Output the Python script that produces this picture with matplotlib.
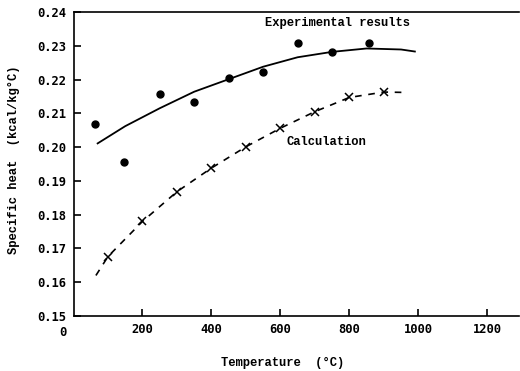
import matplotlib
matplotlib.use("Agg")
import matplotlib.pyplot as plt

# Experimental data points
exp_x = [62, 147, 250, 350, 451, 551, 652, 751, 858]
exp_y = [0.2067, 0.1957, 0.2156, 0.2133, 0.2204, 0.2223, 0.2307, 0.2282, 0.2308]

# Smoothed experimental curve
fit_x = [70, 150, 250, 350, 450, 550, 650, 750, 850, 950, 990]
fit_y = [0.2011, 0.2062, 0.2115, 0.2164, 0.2201, 0.2238, 0.2266, 0.2282, 0.2292, 0.2289, 0.2283]

# Calculation points
calc_x = [100, 200, 300, 400, 500, 600, 700, 800, 900]
calc_y = [0.1676, 0.1780, 0.1868, 0.1938, 0.2001, 0.2056, 0.2105, 0.2147, 0.2163]

# Calculation dashed curve
calc_line_x = [65, 100, 200, 300, 400, 500, 600, 700, 800, 900, 955]
calc_line_y = [0.1620, 0.1676, 0.1780, 0.1868, 0.1938, 0.2001, 0.2056, 0.2105, 0.2147, 0.2163, 0.2162]

x_ticks = [200, 400, 600, 800, 1000, 1200]
y_ticks = [0.15, 0.16, 0.17, 0.18, 0.19, 0.20, 0.21, 0.22, 0.23, 0.24]

mono = "Liberation Mono"
num = "DejaVu Sans Mono"
fs = 8.7

fig = plt.figure(figsize=(5.2, 3.71), dpi=100)
ax = fig.add_axes([73.5/520, 55/371, (519-73.5)/520, (316-12)/371])

ax.plot(fit_x, fit_y, color="black", lw=1.3)
ax.plot(exp_x, exp_y, "o", color="black", ms=5)
ax.plot(calc_line_x, calc_line_y, color="black", lw=1.2, ls=(0, (4, 4)))
ax.plot(calc_x, calc_y, "x", color="black", ms=6, mew=1.1)

ax.set_xlim(0, 1292)
ax.set_ylim(0.15, 0.24)
ax.set_xticks(x_ticks)
ax.set_yticks(y_ticks)
ax.set_xticklabels([str(t) for t in x_ticks], fontfamily=num, fontweight="bold", fontsize=fs)
ax.set_yticklabels(["%.2f" % t for t in y_ticks], fontfamily=num, fontweight="bold", fontsize=fs)
ax.tick_params(direction="in", length=5, width=1.2, pad=5)
for s in ax.spines.values():
    s.set_linewidth(1.2)
ax.spines["right"].set_visible(False)

fig.text(63/520, 1 - 333/371, "0", fontfamily=num, fontweight="bold", fontsize=fs,
         ha="center", va="center")

ax.text(556, 0.2367, "Experimental results", fontfamily=mono, fontweight="bold",
        fontsize=fs, ha="left", va="center")
ax.text(619, 0.2014, "Calculation", fontfamily=mono, fontweight="bold",
        fontsize=fs, ha="left", va="center")

fig.text(283/520, 1 - 363/371, "Temperature  (°C)", fontfamily=mono, fontweight="bold",
         fontsize=fs, ha="center", va="center")
fig.text(14/520, 1 - 160/371, "Specific heat  (kcal/kg°C)", fontfamily=mono,
         fontweight="bold", fontsize=fs, ha="center", va="center", rotation=90)

fig.savefig("out.png", dpi=100)
